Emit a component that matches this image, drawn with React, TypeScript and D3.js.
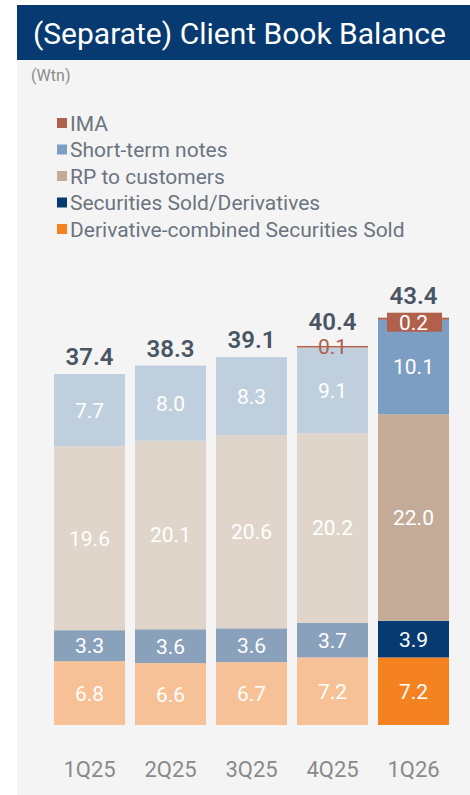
import React from 'react';
import * as d3 from 'd3';

// quarters and the five stacked series (Wtn)
const categories = ['1Q25', '2Q25', '3Q25', '4Q25', '1Q26'];
const derivCombined = [6.8, 6.6, 6.7, 7.2, 7.2];
const secSold = [3.3, 3.6, 3.6, 3.7, 3.9];
const rpCustomers = [19.6, 20.1, 20.6, 20.2, 22.0];
const shortTerm = [7.7, 8.0, 8.3, 9.1, 10.1];
const ima = [0, 0, 0, 0.1, 0.2];
const totals = [37.4, 38.3, 39.1, 40.4, 43.4];

const seriesKeys = ['deriv', 'sec', 'rp', 'short', 'ima'];
const legendLabels = [
  'IMA',
  'Short-term notes',
  'RP to customers',
  'Securities Sold/Derivatives',
  'Derivative-combined Securities Sold',
];
const darkColors: Record<string, string> = {
  deriv: '#f58220',
  sec: '#063a70',
  rp: '#c4ab97',
  short: '#7b9ec2',
  ima: '#b0604b',
};
const lightColors: Record<string, string> = {
  deriv: '#f6c196',
  sec: '#8aa1bb',
  rp: '#e0d5ca',
  short: '#bfcfdd',
  ima: '#b0604b',
};
const legendKeys = ['ima', 'short', 'rp', 'sec', 'deriv'];

const font = 'Roboto, "Noto Sans", sans-serif';

export default function App() {
  const rows = categories.map((c, i) => ({
    cat: c,
    deriv: derivCombined[i],
    sec: secSold[i],
    rp: rpCustomers[i],
    short: shortTerm[i],
    ima: ima[i],
  }));
  const stacked = d3.stack<any>().keys(seriesKeys)(rows);

  const x = d3.scaleBand().domain(categories).range([54, 449]).paddingInner(10 / 81).paddingOuter(0);
  const y = d3.scaleLinear().domain([0, 45]).range([725, 725 - 45 * 9.385]);
  const bw = x.bandwidth();
  const last = categories.length - 1;

  return (
    <svg width={470} height={795} style={{ position: 'absolute', left: 0, top: 0 }}>
      <rect x={17} y={5} width={453} height={790} fill="#f4f4f4" />
      <rect x={17} y={5} width={453} height={55} fill="#063a70" />
      <text x={33} y={44} fill="#fff" fontFamily={font} fontSize={30}>
        (Separate) Client Book Balance
      </text>
      <text x={31} y={81} fill="#8a8a8a" fontFamily={font} fontSize={16}>
        (Wtn)
      </text>

      {legendKeys.map((k, i) => (
        <g key={k} transform={`translate(57, ${123 + i * 26.5})`}>
          <rect x={0} y={-5} width={10} height={10} fill={darkColors[k]} />
          <text x={13} y={7.5} fill="#6b7480" fontFamily={font} fontSize={21}>
            {legendLabels[i]}
          </text>
        </g>
      ))}

      {stacked.map((layer) =>
        layer.map((d, i) => {
          const key = layer.key;
          const x0 = x(categories[i])!;
          const top = y(d[1]);
          const bot = y(d[0]);
          const v = d[1] - d[0];
          if (v <= 0) return null;
          const color = i === last ? darkColors[key] : lightColors[key];
          const cx = x0 + bw / 2;
          if (key === 'ima') {
            if (i === last) {
              return (
                <g key={key + i}>
                  <rect x={x0} y={top} width={bw} height={Math.max(bot - top, 2)} fill={color} />
                  <rect x={x0 + 9} y={top - 5} width={bw - 16} height={19} fill={color} />
                  <text x={cx} y={top + 12} textAnchor="middle" fill="#fff" fontFamily={font} fontSize={21}>
                    {v.toFixed(1)}
                  </text>
                </g>
              );
            }
            return (
              <g key={key + i}>
                <line x1={x0} x2={x0 + bw} y1={top} y2={top} stroke={color} strokeWidth={1.5} />
                <text x={cx} y={top + 7} textAnchor="middle" fill={color} fontFamily={font} fontSize={21}>
                  {v.toFixed(1)}
                </text>
              </g>
            );
          }
          return (
            <g key={key + i}>
              <rect x={x0} y={top} width={bw} height={bot - top} fill={color} />
              <text
                x={cx}
                y={(top + bot) / 2 + 7.5}
                textAnchor="middle"
                fill="#fff"
                fontFamily={font}
                fontSize={21}
              >
                {v.toFixed(1)}
              </text>
            </g>
          );
        })
      )}

      {categories.map((c, i) => {
        const topVal = stacked[stacked.length - 1][i][1];
        const offset = i === last ? 14 : i === 3 ? 17 : 9;
        return (
          <text
            key={'t' + c}
            x={x(c)! + bw / 2}
            y={y(topVal) - offset}
            textAnchor="middle"
            fill="#4a5563"
            fontFamily={font}
            fontWeight={600}
            fontSize={24}
          >
            {totals[i].toFixed(1)}
          </text>
        );
      })}

      {categories.map((c) => (
        <text
          key={'x' + c}
          x={x(c)! + bw / 2}
          y={777}
          textAnchor="middle"
          fill="#8a8a8a"
          fontFamily={font}
          fontSize={22}
        >
          {c}
        </text>
      ))}
    </svg>
  );
}
